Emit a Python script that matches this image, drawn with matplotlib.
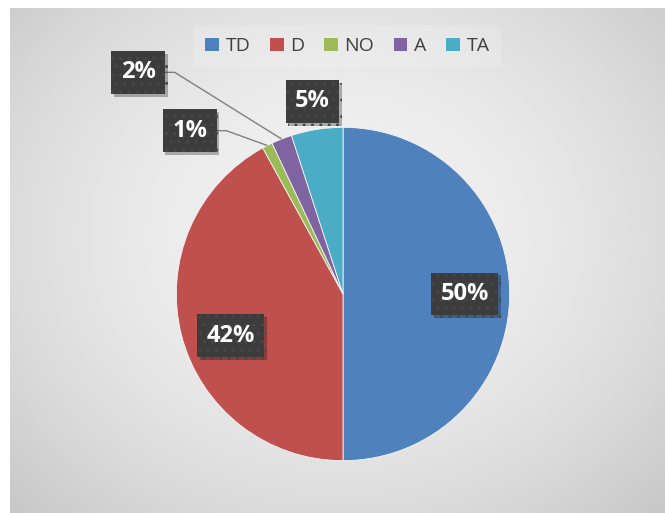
import numpy as np
import matplotlib.pyplot as plt
from matplotlib import patheffects as pe

categories = ["TD", "D", "NO", "A", "TA"]
shares = [50, 42, 1, 2, 5]
colors = ["#4F81BD", "#C0504D", "#9BBB59", "#8064A2", "#4BACC6"]

W, H = 665, 513
fig = plt.figure(figsize=(W / 100, H / 100), dpi=100)
fig.patch.set_facecolor("white")

# chart area with a soft radial gradient
bg = fig.add_axes([10 / W, 0, (W - 10) / W, (H - 8) / H])
bg.set_axis_off()
yy, xx = np.mgrid[0:1:300j, 0:1:400j]
d = np.sqrt(((xx - 0.5) / 0.5) ** 2 + ((yy - 0.45) / 0.55) ** 2) / np.sqrt(2)
shade = 0.95 - 0.17 * d ** 1.8
bg.imshow(shade, cmap="gray", vmin=0, vmax=1, aspect="auto",
          extent=[0, 1, 0, 1], interpolation="bicubic")

# pie axes: centre at (343, 294) px, radius ~167 px
side = 400
cx, cy = 343, H - 294
ax = fig.add_axes([(cx - side / 2) / W, (cy - side / 2) / H, side / W, side / H])
ax.set_axis_off()

wedges, _ = ax.pie(shares, colors=colors, startangle=90, counterclock=False,
                   radius=1.0, wedgeprops=dict(edgecolor="#f4f4f4", linewidth=0.6))
ax.set_xlim(-1.2, 1.2)
ax.set_ylim(-1.2, 1.2)

box = dict(boxstyle="square,pad=0.4", facecolor="#3c3c3c", edgecolor="#474747",
           hatch="..", linewidth=0)
shadow = [pe.SimplePatchShadow(offset=(2, -2), alpha=0.3), pe.Normal()]
label_font = dict(family="Open Sans", fontweight="bold", fontsize=17, color="white")

def mid_angle(w):
    return np.deg2rad((w.theta1 + w.theta2) / 2)

# label layout: radius for the label, or a fixed spot with a leader line
label_pos = {
    "TD": (0.73, None),
    "D": (0.72, None),
    "TA": (1.17, None),
    "NO": (None, (-0.92, 0.98)),
    "A": (None, (-1.23, 1.33)),
}

for w, cat, val in zip(wedges, categories, shares):
    a = mid_angle(w)
    r, fixed = label_pos[cat]
    if fixed is None:
        if cat == "D":
            a = a + np.deg2rad(6)
        tx, ty = r * np.cos(a), r * np.sin(a)
        t = ax.text(tx, ty, f"{val}%", ha="center", va="center", bbox=box,
                    clip_on=False, zorder=5, **label_font)
    else:
        tx, ty = fixed
        t = ax.text(tx, ty, f"{val}%", ha="center", va="center", bbox=box,
                    clip_on=False, zorder=5, **label_font)
        ex, ey = np.cos(a), np.sin(a)
        elbow_x = tx + 0.22
        ax.plot([ex, elbow_x, tx + 0.16], [ey, ty, ty], color="#7f7f7f",
                linewidth=1.0, zorder=1, solid_capstyle="butt", clip_on=False)
    t.get_bbox_patch().set_path_effects(shadow)

leg = fig.legend(wedges, categories, loc="center", bbox_to_anchor=(347 / W, 1 - 46 / H),
                 ncol=5, frameon=True, handlelength=0.75, handleheight=0.75,
                 handletextpad=0.35, columnspacing=0.95, borderpad=0.6,
                 prop=dict(family="Open Sans", size=14))
leg.get_frame().set_facecolor("white")
leg.get_frame().set_alpha(0.15)
leg.get_frame().set_edgecolor("none")
for txt in leg.get_texts():
    txt.set_color("#404040")

fig.savefig("out.png", dpi=100)
